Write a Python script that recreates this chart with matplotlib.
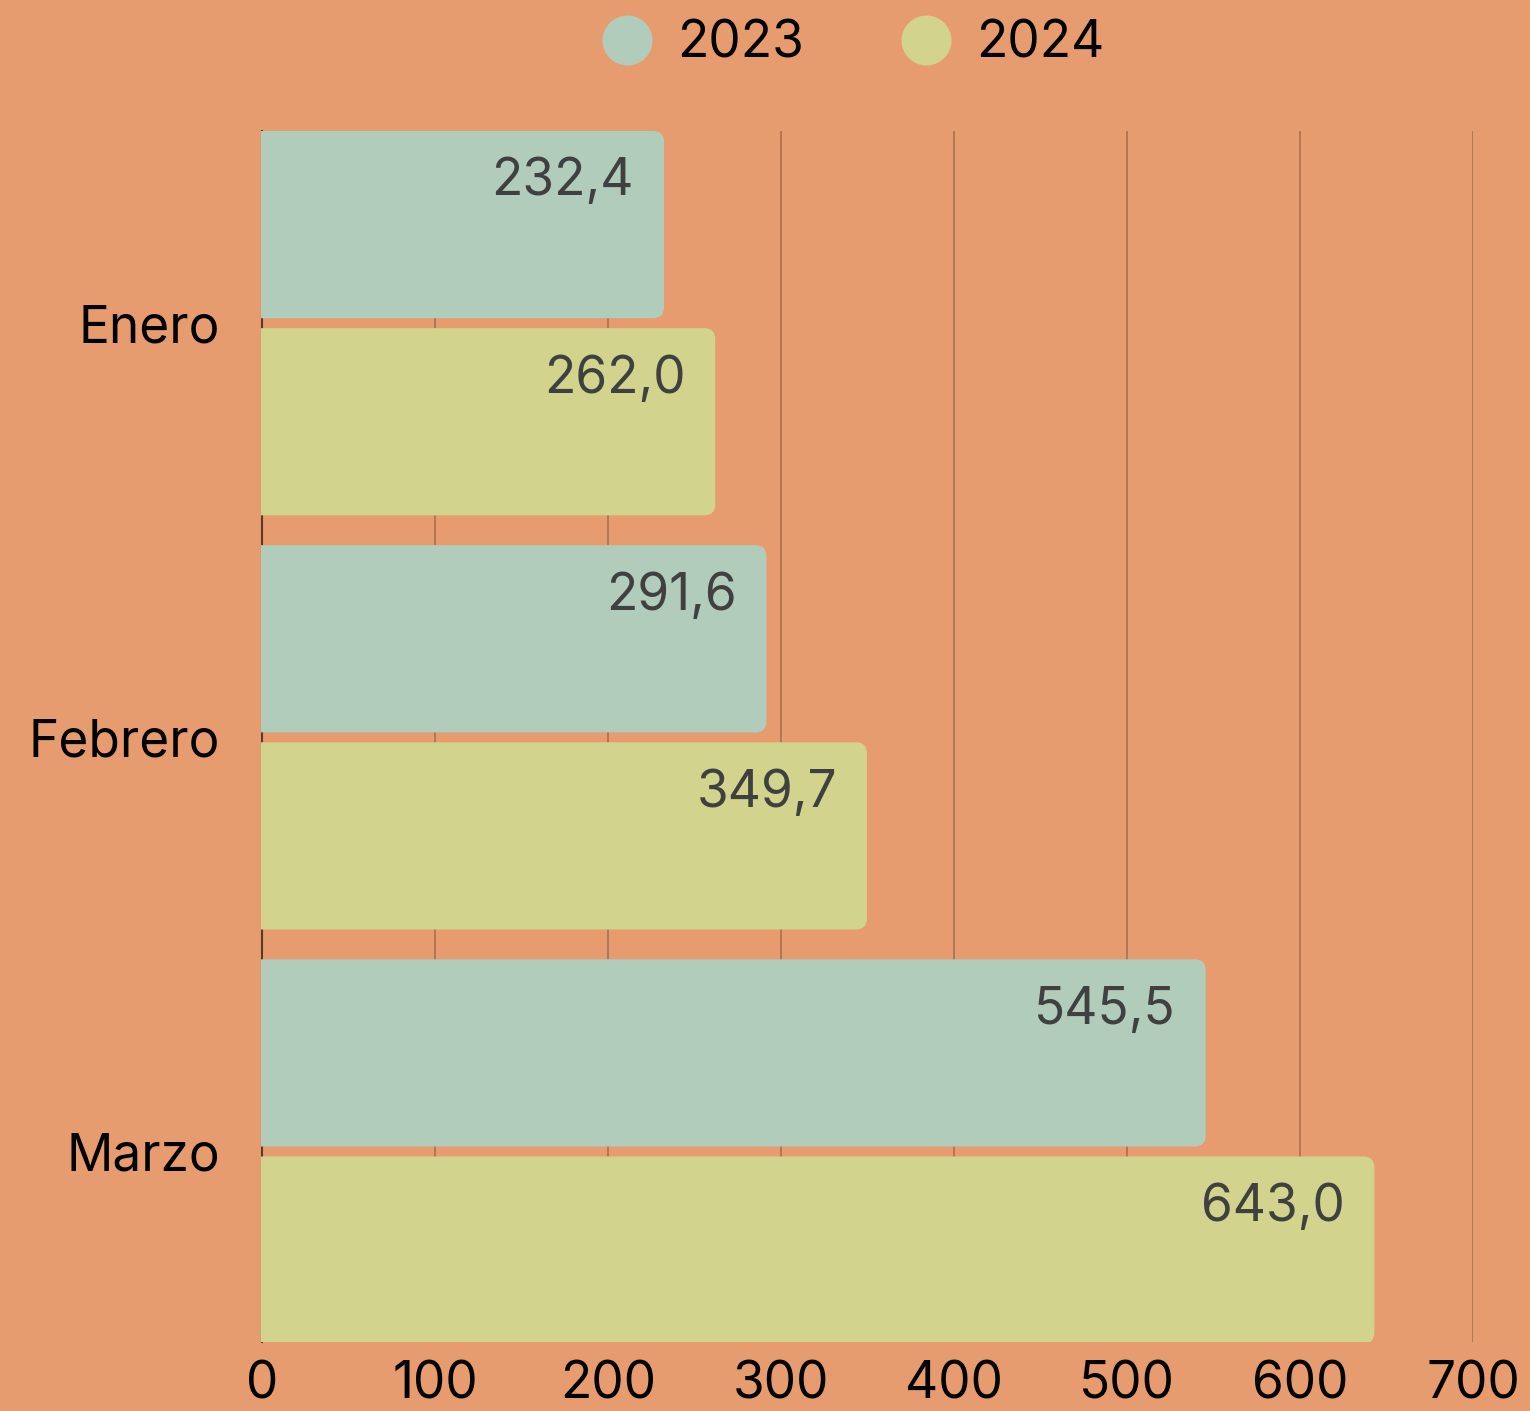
import matplotlib
matplotlib.use("Agg")
import matplotlib.pyplot as plt
from matplotlib.patches import FancyBboxPatch, Rectangle
from matplotlib.lines import Line2D

categories = ["Enero", "Febrero", "Marzo"]
series_names = ["2023", "2024"]
values_2023 = [232.4, 291.6, 545.5]
values_2024 = [262.0, 349.7, 643.0]
x_ticks = [0, 100, 200, 300, 400, 500, 600, 700]

BG = "#E69C6E"
C23 = "#B2CCBB"
C24 = "#D2D38C"
GRID = "#A8704F"
LABEL = "#404040"

plt.rcParams['font.family'] = ['Inter', 'DejaVu Sans']
FS = 37

W, H = 1530, 1411
fig = plt.figure(figsize=(W / 100, H / 100), dpi=100, facecolor=BG)
ax = fig.add_axes([262 / W, 1 - 1342 / H, (1473 - 262) / W, (1342 - 131) / H])
ax.set_facecolor(BG)

ypos = list(range(len(categories)))
bh = 0.452
off = 0.238
bars23 = ax.barh([y - off for y in ypos], values_2023, height=bh, color=C23)
bars24 = ax.barh([y + off for y in ypos], values_2024, height=bh, color=C24)

ax.set_xlim(0, 700)
ax.set_ylim(2.46, -0.464)

# pixel scale for rounded corners
xpp = 700 / (1473 - 262)
ypp = (2.46 + 0.464) / (1342 - 131)
r_px = 11

clip_rect = Rectangle((-1.2 / 1211, 0), 1 + 6 / 1211, 1, transform=ax.transAxes,
                      facecolor="none", edgecolor="none")

for bars, vals, col in [(bars23, values_2023, C23), (bars24, values_2024, C24)]:
    for b, v in zip(bars, vals):
        x0, y0 = b.get_x(), b.get_y()
        w, h = b.get_width(), b.get_height()
        b.set_visible(False)
        p = FancyBboxPatch((x0 - 30 * xpp, y0), w + 30 * xpp, h,
                           boxstyle=f"round,pad=0,rounding_size={r_px * xpp}",
                           mutation_aspect=ypp / xpp,
                           facecolor=col, edgecolor="none", zorder=3)
        ax.add_patch(p)
        p.set_clip_path(clip_rect)
        ax.text(x0 + w - 30 * xpp, y0 + 51 * ypp, f"{v:.1f}".replace(".", ","),
                ha="right", va="center", fontsize=FS, color=LABEL, zorder=4)

ax.set_xticks(x_ticks)
ax.set_xticklabels([str(t) for t in x_ticks])
ax.set_yticks(ypos)
ax.set_yticklabels(categories)
ax.tick_params(axis="x", length=0, pad=13, labelsize=FS, colors="black")
ax.tick_params(axis="y", length=0, pad=30, labelsize=FS, colors="black")

ax.grid(axis="x", color=GRID, linewidth=1.2, zorder=1)
ax.set_axisbelow(True)
for s in ["top", "right", "bottom"]:
    ax.spines[s].set_visible(False)
ax.spines["left"].set_color("#5C3A28")
ax.spines["left"].set_linewidth(1.5)
ax.spines["left"].set_zorder(1)

handles = [Line2D([], [], marker="o", linestyle="none", markersize=36,
                  markerfacecolor=c, markeredgecolor="none") for c in (C23, C24)]
fig.legend(handles, series_names, loc="center", ncol=2,
           bbox_to_anchor=(854 / W, 1 - 44 / H), frameon=False,
           fontsize=FS, handlelength=0.95, handletextpad=0.5, columnspacing=1.9)

fig.savefig("out.png", dpi=100, facecolor=BG)
